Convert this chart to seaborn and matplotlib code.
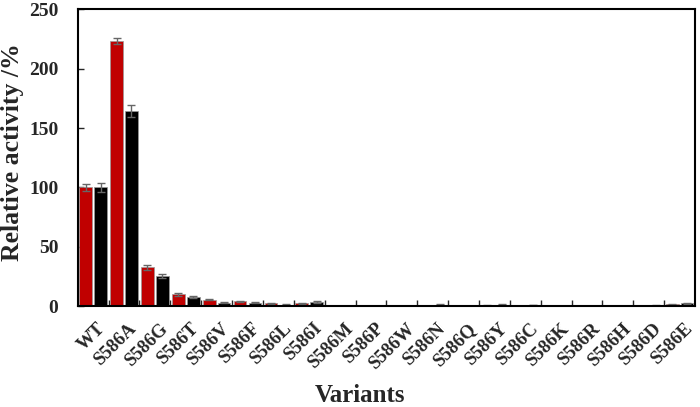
import matplotlib
matplotlib.use("Agg")
import matplotlib.pyplot as plt
import matplotlib.transforms as mtransforms
import seaborn as sns
import pandas as pd
import numpy as np

variants = ["WT", "S586A", "S586G", "S586T", "S586V", "S586F", "S586L", "S586I",
            "S586M", "S586P", "S586W", "S586N", "S586Q", "S586Y", "S586C", "S586K",
            "S586R", "S586H", "S586D", "S586E"]
red_values = [100, 223, 32.5, 9.8, 5.3, 3.9, 2.3, 2.4, 0.2, 0.1, 0.1, 0.3, 0.1, 0.6, 0.2, 0.1, 0.1, 0.1, 0.3, 1.5]
red_errors = [3, 2.5, 2, 1, 0.6, 0.5, 0.4, 0.5, 0.1, 0.1, 0.1, 0.1, 0.1, 0.2, 0.1, 0.1, 0.1, 0.1, 0.1, 0.3]
black_values = [100, 164.5, 25.5, 7.5, 3.0, 3.0, 1.2, 3.5, 0.1, 0.1, 0.1, 1.2, 0.1, 1.3, 0.8, 0.1, 0.1, 0.1, 0.6, 2.2]
black_errors = [4, 5, 1.5, 1, 0.5, 0.4, 0.3, 0.5, 0.1, 0.1, 0.1, 0.3, 0.1, 0.3, 0.2, 0.1, 0.1, 0.1, 0.2, 0.4]
series = ["Series 1", "Series 2"]
colors = ["#C00000", "#000000"]

df = pd.DataFrame({
    "Variant": variants * 2,
    "Series": [series[0]] * len(variants) + [series[1]] * len(variants),
    "Value": red_values + black_values,
})
errs = red_errors + black_errors

sns.set_style("ticks")
plt.rcParams["font.family"] = ["Liberation Serif", "DejaVu Serif"]
plt.rcParams["font.weight"] = "bold"

fig = plt.figure(figsize=(7, 4.07), dpi=100)
ax = fig.add_axes([0.111, 0.248, 0.882, 0.729])

sns.barplot(data=df, x="Variant", y="Value", hue="Series", order=variants,
            hue_order=series, palette=colors, width=0.96, gap=0.14, saturation=1,
            errorbar=None, edgecolor="#999999", linewidth=0.5, legend=False, ax=ax)

# error bars at bar centers
patches = [p for p in ax.patches]
for p, v, e in zip(patches, df["Value"], errs):
    cx = p.get_x() + p.get_width() / 2
    ax.errorbar(cx, p.get_height(), yerr=e, fmt="none", ecolor="#666666",
                elinewidth=1.0, capsize=3, capthick=1.0)

ax.set_ylim(0, 250)
ax.set_xlim(-0.5, len(variants) - 0.5)
ax.set_yticks([0, 50, 100, 150, 200, 250])
ax.set_xticks(np.arange(len(variants)))
ax.set_xticklabels(variants, rotation=45, ha="right", rotation_mode="anchor",
                   fontsize=13.5, fontweight="bold")
ax.tick_params(axis="x", length=0, pad=10)
offset = mtransforms.ScaledTranslation(4 / 100, 0, fig.dpi_scale_trans)
for lab in ax.get_xticklabels():
    lab.set_transform(lab.get_transform() + offset)
ax.tick_params(axis="y", direction="in", length=4, width=1, labelsize=14, pad=14)
for lab in ax.get_yticklabels():
    lab.set_fontweight("bold")
# minor ticks between groups pointing inward
ax.set_xticks(np.arange(0.5, len(variants) - 0.5, 1), minor=True)
ax.tick_params(axis="x", which="minor", direction="in", length=4, width=1)

for s in ax.spines.values():
    s.set_visible(True)
    s.set_linewidth(1.5)
    s.set_color("black")

ax.set_xlabel("Variants", fontsize=18, fontweight="bold", va="center")
ax.xaxis.set_label_coords(0.457, -0.30)
ax.set_ylabel("Relative activity /%", fontsize=18.5, fontweight="bold", va="center")
ax.yaxis.set_label_coords(-0.105, 0.52)

fig.savefig("out.png", dpi=100)
